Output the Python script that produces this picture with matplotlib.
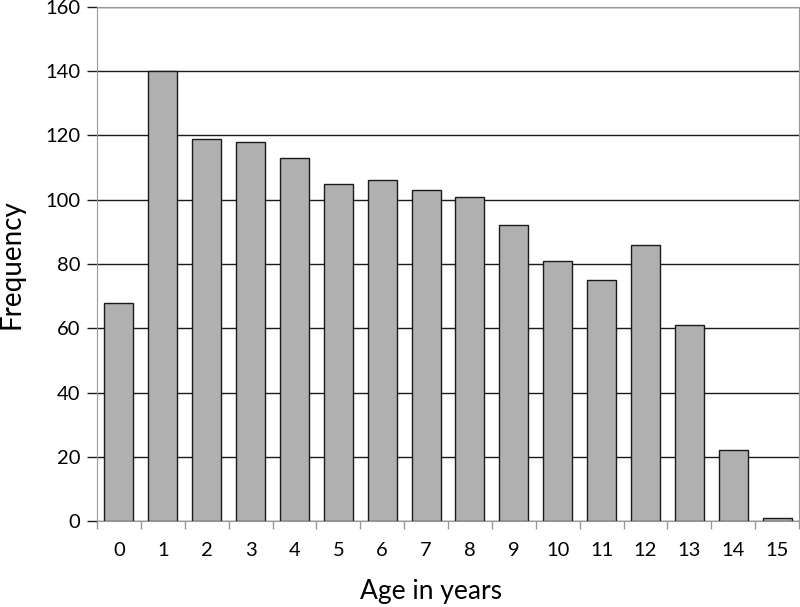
import matplotlib
matplotlib.use("Agg")
import matplotlib.pyplot as plt
import numpy as np

ages = ["0", "1", "2", "3", "4", "5", "6", "7", "8", "9", "10", "11", "12", "13", "14", "15"]
freq = [68, 140, 119, 118, 113, 105, 106, 103, 101, 92, 81, 75, 86, 61, 22, 1]
yticks = [0, 20, 40, 60, 80, 100, 120, 140, 160]

plt.rcParams['font.family'] = ['Lato', 'DejaVu Sans']

fig = plt.figure(figsize=(8, 6.07), dpi=100)
ax = fig.add_axes([97/800, 86/607, 702/800, 514/607])

x = np.arange(len(ages))
ax.bar(x, freq, width=0.66, color='#b0b0b0', edgecolor='#1a1a1a', linewidth=1.0, zorder=3)

ax.set_xlim(-0.5, len(ages) - 0.5)
ax.set_ylim(0, 160)
ax.set_yticks(yticks)
ax.set_yticklabels([str(v) for v in yticks])
ax.yaxis.grid(True, color='#1a1a1a', linewidth=1.0)
ax.set_axisbelow(True)

# x ticks at category boundaries, labels at centers
ax.set_xticks(np.arange(-0.5, len(ages), 1.0))
ax.set_xticklabels([])
ax.set_xticks(x, minor=True)
ax.set_xticklabels(ages, minor=True)
ax.tick_params(axis='x', which='major', length=6, color='#999999', width=1)
ax.tick_params(axis='x', which='minor', length=0, pad=15, labelsize=14.5)
ax.tick_params(axis='y', length=7, color='#1a1a1a', width=1, pad=5, labelsize=14.5)

for s in ['top', 'right', 'left', 'bottom']:
    ax.spines[s].set_color('#999999')

fig.text(431/800, 1 - 592/607, "Age in years", ha='center', va='center', fontsize=19)
fig.text(12/800, 1 - 264/607, "Frequency", ha='center', va='center', rotation=90, fontsize=20)

fig.savefig("out.png", dpi=100)
